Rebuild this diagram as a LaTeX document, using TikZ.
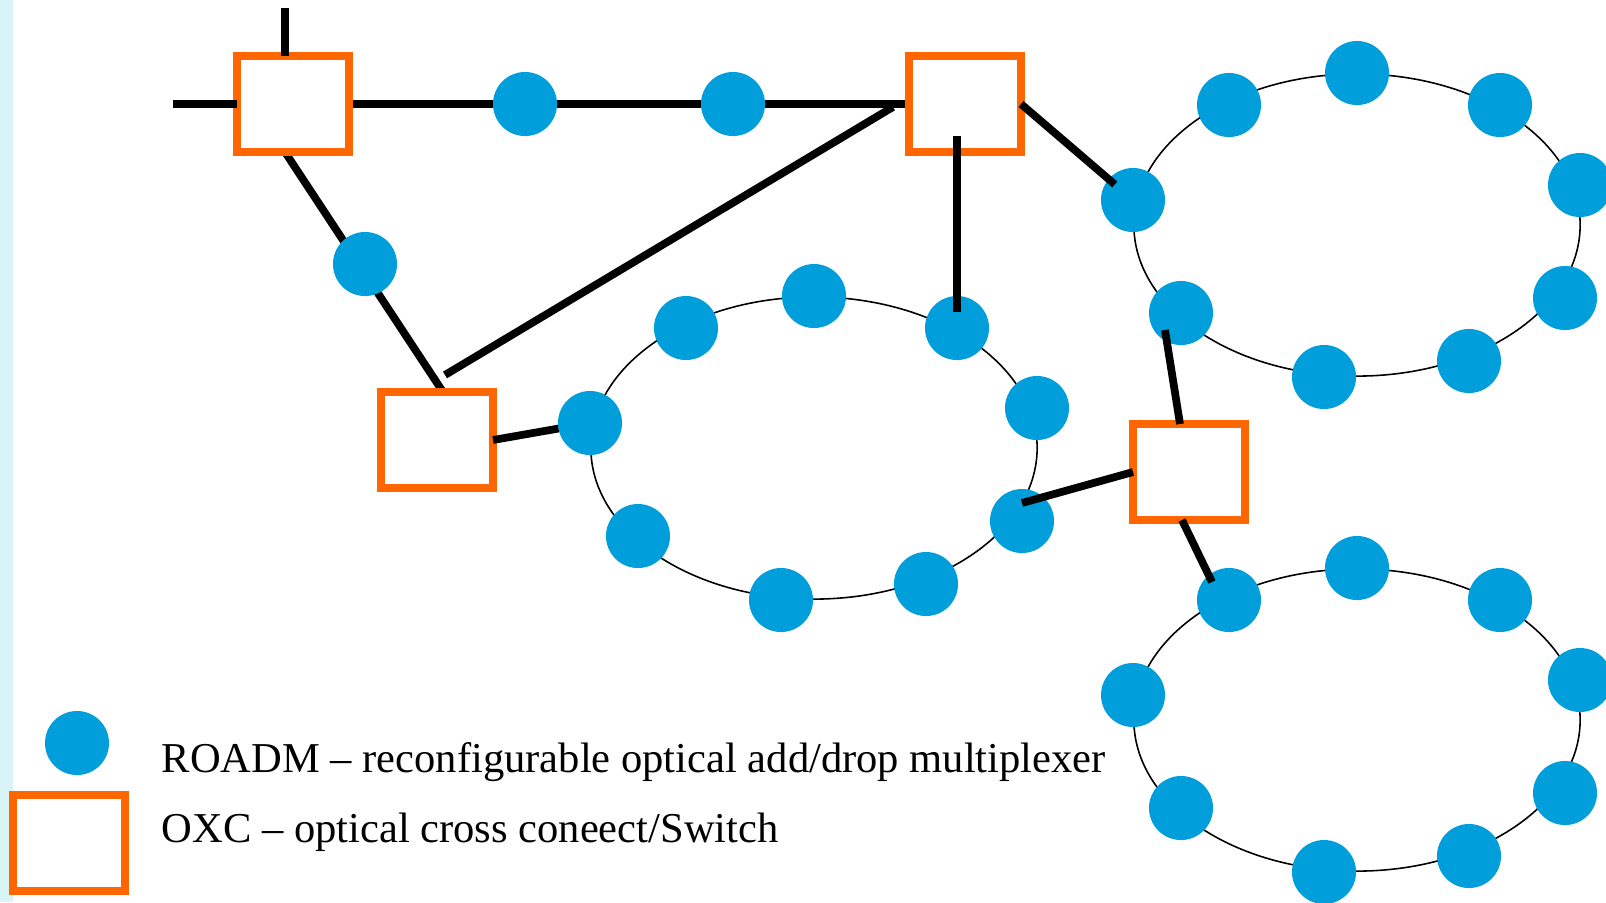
\documentclass[tikz,border=0pt]{standalone}
\usepackage{fontspec}
\setmainfont{Liberation Serif}
\usepackage{tikz}
\usetikzlibrary{positioning, backgrounds}

\definecolor{roadmblue}{RGB}{0,158,219}
\definecolor{oxcorange}{RGB}{255,102,0}
\definecolor{stripcyan}{RGB}{217,244,247}

\begin{document}
\begin{tikzpicture}[x=0.01cm, y=-0.01cm,
    roadm/.style={circle, fill=roadmblue, minimum size=0.64cm, inner sep=0pt, outer sep=0pt},
    oxc/.style={rectangle, draw=oxcorange, fill=white, line width=0.08cm, minimum width=1.12cm, minimum height=0.96cm, inner sep=0pt, outer sep=0pt},
    link/.style={line width=2.2pt},
    ring/.style={line width=0.45pt},
    legend/.style={anchor=base west, inner sep=0pt, font=\fontsize{12.1}{14}\selectfont}]
  \useasboundingbox (0,0) rectangle (1606,902);
  \clip (0,0) rectangle (1606,902);
  \fill[stripcyan] (0,0) rectangle (13,902);

  % rings
  \draw[ring] (814,448) ellipse [x radius=2.23cm, y radius=1.51cm];
  \draw[ring] (1357,225) ellipse [x radius=2.23cm, y radius=1.51cm];
  \draw[ring] (1357,720) ellipse [x radius=2.23cm, y radius=1.51cm];

  % cross connects
  \node[oxc] (oxcTL) at (293,104) {};
  \node[oxc] (oxcTR) at (965,104) {};
  \node[oxc] (oxcLL) at (437,440) {};
  \node[oxc] (oxcRM) at (1189,472) {};

  % add/drop nodes on the mesh
  \node[roadm] (r1) at (525,104) {};
  \node[roadm] (r2) at (733,104) {};
  \node[roadm] (r3) at (365,264) {};

  % middle ring
  \node[roadm] (m1) at (590,423) {};
  \node[roadm] (m2) at (686,328) {};
  \node[roadm] (m3) at (814,296) {};
  \node[roadm] (m4) at (957,328) {};
  \node[roadm] (m5) at (1037,408) {};
  \node[roadm] (m6) at (1022,521) {};
  \node[roadm] (m7) at (926,584) {};
  \node[roadm] (m8) at (781,600) {};
  \node[roadm] (m9) at (638,536) {};

  % upper right ring
  \node[roadm] (a1) at (1133,200) {};
  \node[roadm] (a2) at (1229,105) {};
  \node[roadm] (a3) at (1357,73) {};
  \node[roadm] (a4) at (1500,105) {};
  \node[roadm] (a5) at (1580,185) {};
  \node[roadm] (a6) at (1565,298) {};
  \node[roadm] (a7) at (1469,361) {};
  \node[roadm] (a8) at (1324,377) {};
  \node[roadm] (a9) at (1181,313) {};

  % lower right ring
  \node[roadm] (b1) at (1133,695) {};
  \node[roadm] (b2) at (1229,600) {};
  \node[roadm] (b3) at (1357,568) {};
  \node[roadm] (b4) at (1500,600) {};
  \node[roadm] (b5) at (1580,680) {};
  \node[roadm] (b6) at (1565,793) {};
  \node[roadm] (b7) at (1469,856) {};
  \node[roadm] (b8) at (1324,872) {};
  \node[roadm] (b9) at (1181,808) {};

  \coordinate (inTop) at (285,8);
  \coordinate (inLeft) at (173,104);

  \begin{scope}[on background layer]
    \draw[link] (oxcTL.east) -- (oxcTR.west);
    \draw[link] ([xshift=-0.08cm]oxcTL.south) -- ([xshift=0.06cm]oxcLL.north);
  \end{scope}
  \draw[link] (inTop) -- ([xshift=-0.08cm]oxcTL.north);
  \draw[link] (inLeft) -- (oxcTL.west);
  \draw[link] ([xshift=-0.16cm,yshift=-0.03cm]oxcTR.west) -- ([xshift=0.08cm,yshift=0.17cm]oxcLL.north);
  \draw[link] (oxcLL.east) -- (m1);
  \draw[link, shorten <=-0.16cm, shorten >=0.16cm] (oxcTR.south -| m4.center) -- (m4.center);
  \draw[link, shorten >=0.24cm] (oxcTR.east) -- (a1.center);
  \draw[link] ([xshift=-0.09cm]oxcRM.north) -- ([xshift=-0.16cm,yshift=-0.17cm]a9.center);
  \draw[link] (oxcRM.west) -- ([yshift=0.18cm]m6.center);
  \draw[link] ([xshift=-0.07cm]oxcRM.south) -- ([xshift=-0.17cm,yshift=0.18cm]b2.center);

  % legend
  \node[roadm] (legR) at (77,743) {};
  \node[oxc] (legO) at (69,843) {};
  \node[legend] (txtR) at (161,772) {ROADM – reconfigurable optical add/drop multiplexer};
  \node[legend] (txtO) at (161,842) {OXC – optical cross coneect/Switch};
\end{tikzpicture}
\end{document}
